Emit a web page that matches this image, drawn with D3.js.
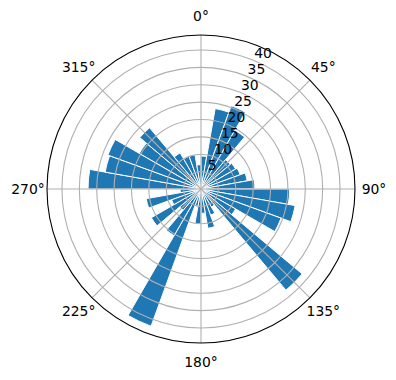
<!DOCTYPE html>
<html lang="en">

<head>
  <meta charset="UTF-8">
  <title>Polar bars</title>
  <script src="https://d3js.org/d3.v7.min.js"></script>
  <style>
    body { margin: 0; background: #fff; }
    text { font-family: "DejaVu Sans", sans-serif; font-size: 13.9px; fill: #000; }
  </style>
</head>

<body>
  <div id="chart"></div>
  <script>

    // wind direction sectors (start angle, degrees clockwise from north), 10 degrees wide
    const sectorStart = d3.range(0, 360, 10);
    // bar heights, one per sector
    const counts = [
      9.5, 23.5, 25.5, 19.5, 11, 11.5, 12, 13.5, 15.5,
      25.5, 27.5, 24.5, 11.5, 38, 6, 8, 11.5, 7,
      10, 5, 42, 15.5, 8, 16.5, 9, 16, 6,
      32.5, 28, 28.5, 20.5, 23, 12, 10, 10, 7
    ];
    const radialTicks = [5, 10, 15, 20, 25, 30, 35, 40];
    const angleTicks = [0, 45, 90, 135, 180, 225, 270, 315];
    const angleLabels = ["0°", "45°", "90°", "135°", "180°", "225°", "270°", "315°"];

    const width = 396, height = 380;
    const cx = 201, cy = 189, R = 154;
    const rMax = 44.3;
    const step = 10;

    const svg = d3.select("#chart")
      .append("svg")
      .attr("width", width)
      .attr("height", height);

    const g = svg.append("g")
      .attr("transform", `translate(${cx},${cy})`);

    const r = d3.scaleLinear().domain([0, rMax]).range([0, R]);
    const rad = d => d * Math.PI / 180;

    // bars
    const arc = d3.arc()
      .innerRadius(0)
      .outerRadius(d => r(d.v))
      .startAngle(d => rad(d.a))
      .endAngle(d => rad(d.a + step));

    g.selectAll(".bar")
      .data(sectorStart.map((a, i) => ({ a: a, v: counts[i] })))
      .join("path")
      .attr("class", "bar")
      .attr("d", arc)
      .attr("fill", "#1f77b4")
      .attr("stroke", "#fff")
      .attr("stroke-width", 1);

    // grid circles
    g.selectAll(".rgrid")
      .data(radialTicks)
      .join("circle")
      .attr("r", d => r(d))
      .attr("fill", "none")
      .attr("stroke", "#b0b0b0")
      .attr("stroke-width", 1.1);

    // spokes
    g.selectAll(".spoke")
      .data(angleTicks)
      .join("line")
      .attr("x1", 0).attr("y1", 0)
      .attr("x2", d => R * Math.sin(rad(d)))
      .attr("y2", d => -R * Math.cos(rad(d)))
      .attr("stroke", "#b0b0b0")
      .attr("stroke-width", 1.1);

    // outer frame
    g.append("circle")
      .attr("r", R)
      .attr("fill", "none")
      .attr("stroke", "#000")
      .attr("stroke-width", 1.1);

    // angle labels
    const labelDist = R + 19;
    g.selectAll(".alabel")
      .data(angleTicks)
      .join("text")
      .attr("x", d => labelDist * Math.sin(rad(d)))
      .attr("y", d => -labelDist * Math.cos(rad(d)) + 5)
      .attr("text-anchor", "middle")
      .text((d, i) => angleLabels[i]);

    // radial labels along 22.5 degrees
    const labAng = rad(22.5);
    g.selectAll(".rlabel")
      .data(radialTicks)
      .join("text")
      .attr("x", d => r(d) * Math.sin(labAng))
      .attr("y", d => -r(d) * Math.cos(labAng) - 3)
      .attr("text-anchor", "start")
      .text(d => d);

  </script>
</body>

</html>
